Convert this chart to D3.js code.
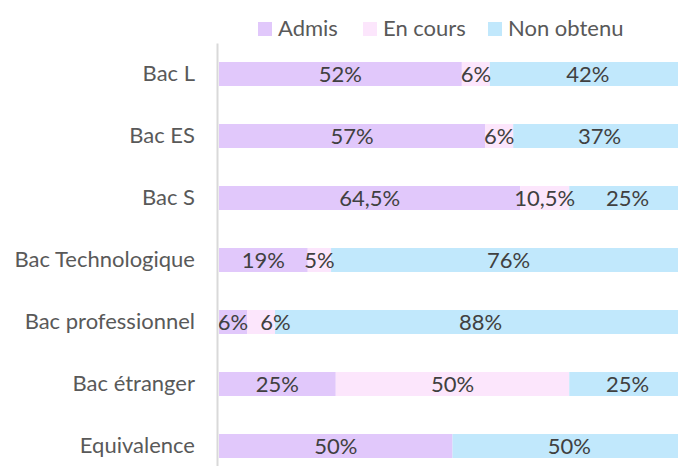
<!DOCTYPE html>
<html>
<head>
<meta charset="utf-8">
<script src="https://cdn.jsdelivr.net/npm/d3@7"></script>
<style>
  html, body { margin: 0; padding: 0; background: #fff; }
  svg { display: block; font-family: Lato, "Open Sans", sans-serif; }
</style>
</head>
<body>
<div id="chart"></div>
<script>
const categories = ["Bac L", "Bac ES", "Bac S", "Bac Technologique", "Bac professionnel", "Bac étranger", "Equivalence"];
const seriesNames = ["Admis", "En cours", "Non obtenu"];
const admis = [52, 57, 64.5, 19, 6, 25, 50];
const enCours = [6, 6, 10.5, 5, 6, 50, 0];
const nonObtenu = [42, 37, 25, 76, 88, 25, 50];
const colors = ["#E1C8FB", "#FCE6FC", "#C1E8FC"];

const width = 678, height = 466;
const fontSize = 22;

const svg = d3.select("#chart")
    .append("svg")
    .attr("width", width)
    .attr("height", height);

// échelles
const xScale = d3.scaleLinear().domain([0, 100]).range([219, 686]);
const pad = 1 - 24 / 62;
const yScale = d3.scaleBand().domain(categories).range([43, 477])
    .paddingInner(pad).paddingOuter(pad / 2);

// empilement
const rows = categories.map((c, i) => ({cat: c, "Admis": admis[i], "En cours": enCours[i], "Non obtenu": nonObtenu[i]}));
const stacked = d3.stack().keys(seriesNames)(rows);

const fmt = v => d3.format("")(v).replace(".", ",") + "%";

const layers = svg.append("g").selectAll("g")
    .data(stacked)
    .join("g")
    .attr("fill", (d, i) => colors[i]);

layers.selectAll("rect")
    .data(d => d)
    .join("rect")
    .attr("x", d => xScale(d[0]))
    .attr("y", d => yScale(d.data.cat))
    .attr("width", d => xScale(d[1]) - xScale(d[0]))
    .attr("height", yScale.bandwidth());

// étiquettes des valeurs (décalées si elles se chevauchent)
const labels = svg.append("g")
    .attr("font-size", fontSize)
    .attr("fill", "#404040")
    .attr("text-anchor", "middle");

categories.forEach((cat, i) => {
    let lastRight = -Infinity;
    stacked.forEach(layer => {
        const d = layer[i];
        const v = d[1] - d[0];
        if (v <= 0) return;
        const t = labels.append("text")
            .attr("y", yScale(cat) + yScale.bandwidth() / 2)
            .attr("dy", "0.35em")
            .text(fmt(v));
        const w = t.node().getComputedTextLength();
        let cx = (xScale(d[0]) + xScale(d[1])) / 2;
        if (cx - w / 2 < lastRight + 12) cx = lastRight + 12 + w / 2;
        t.attr("x", cx);
        lastRight = cx + w / 2;
    });
});

// axe vertical
const yAxisG = svg.append("g")
    .attr("transform", "translate(217,0)")
    .call(d3.axisLeft(yScale).tickSize(0).tickPadding(22));
yAxisG.select(".domain").attr("stroke", "#D9D9D9").attr("stroke-width", 2);
yAxisG.selectAll("text")
    .attr("font-size", fontSize)
    .attr("font-family", "Lato, 'Open Sans', sans-serif")
    .attr("fill", "#595959");

// légende
const legendX = [258, 363, 488];
const legend = svg.append("g");
seriesNames.forEach((name, i) => {
    legend.append("rect")
        .attr("x", legendX[i]).attr("y", 22)
        .attr("width", 14).attr("height", 14)
        .attr("fill", colors[i]);
    legend.append("text")
        .attr("x", legendX[i] + 20).attr("y", 36)
        .attr("font-size", fontSize)
        .attr("fill", "#595959")
        .text(name);
});
</script>
</body>
</html>
